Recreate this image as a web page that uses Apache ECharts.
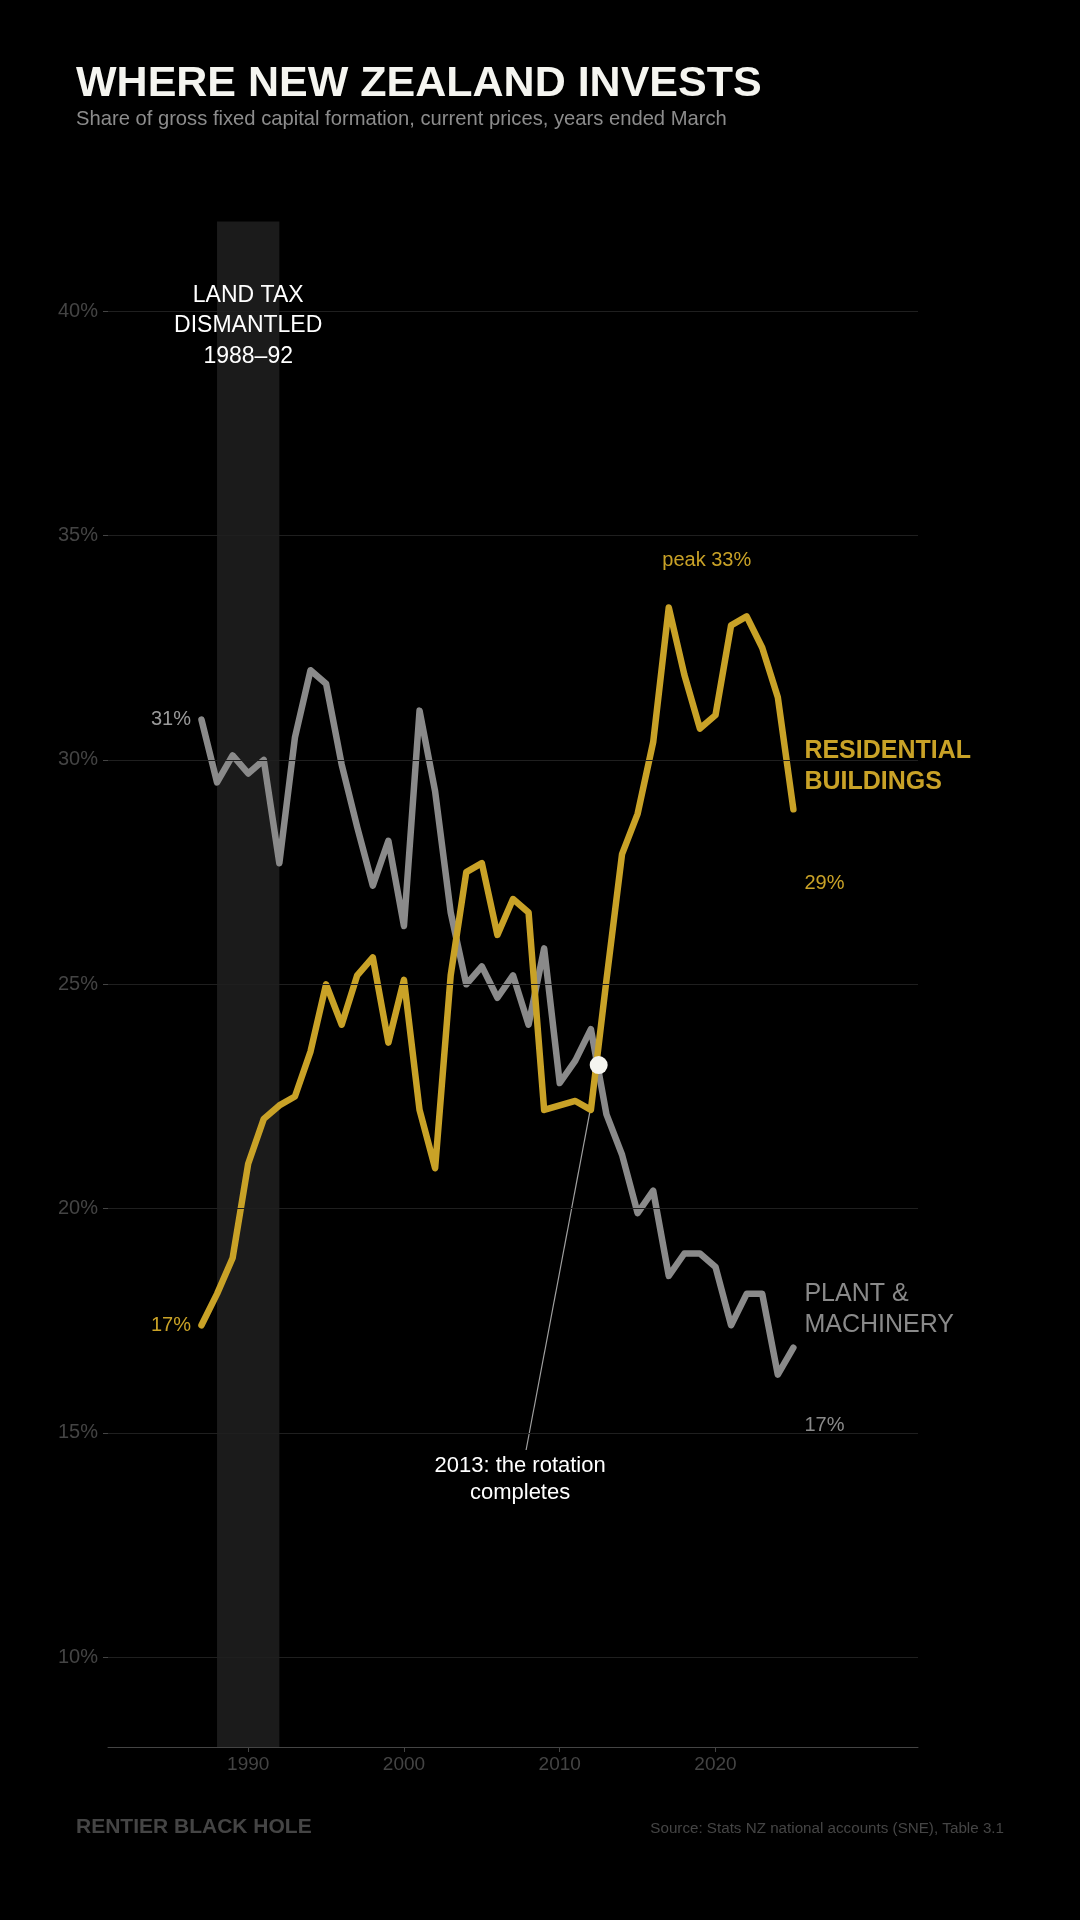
<!DOCTYPE html>
<html>
<head>
<meta charset="utf-8">
<title>Where New Zealand invests</title>
<script src="https://cdn.jsdelivr.net/npm/echarts@6/dist/echarts.min.js"></script>
<style>
  html, body { margin: 0; padding: 0; background: #000; }
  #chart { width: 1080px; height: 1920px; }
</style>
</head>
<body>
<div id="chart"></div>
<script>
const years = [1987, 1988, 1989, 1990, 1991, 1992, 1993, 1994, 1995, 1996,
  1997, 1998, 1999, 2000, 2001, 2002, 2003, 2004, 2005, 2006,
  2007, 2008, 2009, 2010, 2011, 2012, 2013, 2014, 2015, 2016,
  2017, 2018, 2019, 2020, 2021, 2022, 2023, 2024, 2025];

// residential buildings, % of GFCF
const residential = [17.4, 18.1, 18.9, 21.0, 22.0, 22.3, 22.5, 23.5, 25.0, 24.1,
  25.2, 25.6, 23.7, 25.1, 22.2, 20.9, 25.2, 27.5, 27.7, 26.1,
  26.9, 26.6, 22.2, 22.3, 22.4, 22.2, 25.1, 27.9, 28.8, 30.4,
  33.4, 31.9, 30.7, 31.0, 33.0, 33.2, 32.5, 31.4, 28.9];

// plant, machinery & equipment, % of GFCF
const plant = [30.9, 29.5, 30.1, 29.7, 30.0, 27.7, 30.5, 32.0, 31.7, 29.9,
  28.5, 27.2, 28.2, 26.3, 31.1, 29.3, 26.6, 25.0, 25.4, 24.7,
  25.2, 24.1, 25.8, 22.8, 23.3, 24.0, 22.1, 21.2, 19.9, 20.4,
  18.5, 19.0, 19.0, 18.7, 17.4, 18.1, 18.1, 16.3, 16.9];

const gridValues = [10, 15, 20, 25, 30, 35, 40];
const yearTicks = [1990, 2000, 2010, 2020];
const landTaxYears = [1988, 1992];
const crossPoint = [2012.5, 23.2];
const leaderEnd = [2007.84, 14.62];
const peakPoint = [2017, 33.4];

const GOLD = '#c9a227';
const GREY = '#8a8a8a';
const FONT = "'Liberation Sans', Arial, sans-serif";

const chart = echarts.init(document.getElementById('chart'));

function pairs(vals) {
  return vals.map((v, i) => [years[i], v]);
}

function pct(v) {
  return Math.round(v) + '%';
}

/** label next to the first point of a line */
function startLabel(vals, color) {
  return {
    coord: [years[0], vals[0]],
    symbol: 'circle',
    symbolSize: 1,
    itemStyle: { color: 'transparent' },
    label: {
      show: true,
      position: 'left',
      distance: 10,
      formatter: pct(vals[0]),
      color: color,
      fontSize: 20,
      fontFamily: FONT
    }
  };
}

/** name + last value at the end of a line */
function endLabel(name, color, bold, dy) {
  return {
    show: true,
    distance: 11,
    offset: [0, dy],
    formatter: (p) => name.map(n => '{n|' + n + '}').join('\n') + '\n{g| }\n{v|' + pct(p.value[1]) + '}',
    rich: {
      n: { fontSize: 25, lineHeight: 31, fontWeight: bold ? 'bold' : 'normal', color: color, fontFamily: FONT },
      g: { fontSize: 10, lineHeight: 70 },
      v: { fontSize: 20, lineHeight: 31, color: color, fontFamily: FONT }
    }
  };
}

const option = {
  backgroundColor: '#000',
  animation: false,
  textStyle: { fontFamily: FONT },
  title: [
    {
      text: 'WHERE NEW ZEALAND INVESTS',
      subtext: 'Share of gross fixed capital formation, current prices, years ended March',
      left: 76,
      top: 63,
      itemGap: 3,
      padding: 0,
      textStyle: { color: '#f5f5f0', fontSize: 43, fontWeight: 'bold', lineHeight: 43, fontFamily: FONT },
      subtextStyle: { color: '#8c8c8c', fontSize: 20.2, lineHeight: 20, fontFamily: FONT }
    },
    {
      text: 'RENTIER BLACK HOLE',
      left: 76,
      top: 1817,
      padding: 0,
      textStyle: { color: '#454545', fontSize: 21, fontWeight: 'bold', lineHeight: 21, fontFamily: FONT }
    },
    {
      text: 'Source: Stats NZ national accounts (SNE), Table 3.1',
      right: 76,
      top: 1821,
      padding: 0,
      textStyle: { color: '#454545', fontSize: 15.2, fontWeight: 'normal', lineHeight: 15, fontFamily: FONT }
    }
  ],
  grid: { left: 108, right: 162, top: 221.6, bottom: 173 },
  xAxis: {
    type: 'value',
    min: 1981,
    max: 2033,
    axisLine: { show: true, lineStyle: { color: '#444', width: 1 } },
    axisTick: { show: true, length: 5, customValues: yearTicks, lineStyle: { color: '#444' } },
    axisLabel: {
      customValues: yearTicks,
      formatter: (v) => String(v),
      color: '#444',
      fontSize: 19,
      margin: 8,
      fontFamily: FONT
    },
    splitLine: { show: false }
  },
  yAxis: {
    type: 'value',
    min: 8,
    max: 42,
    axisLine: { show: false },
    axisTick: { show: true, length: 5, customValues: gridValues, lineStyle: { color: '#444' } },
    axisLabel: { customValues: gridValues, color: '#444', fontSize: 20, margin: 10, formatter: '{value}%', fontFamily: FONT },
    splitLine: { show: false }
  },
  series: [
    {
      // background: land tax band and gridlines
      type: 'line',
      data: [],
      z: 1,
      silent: true,
      markArea: {
        silent: true,
        itemStyle: { color: '#1b1b1b' },
        label: {
          show: true,
          position: 'insideTop',
          distance: 58.5,
          color: '#fff',
          fontSize: 23,
          lineHeight: 30.5,
          align: 'center',
          fontFamily: FONT
        },
        data: [[
          { name: 'LAND TAX\nDISMANTLED\n' + landTaxYears[0] + '–' + String(landTaxYears[1]).slice(2), xAxis: landTaxYears[0] },
          { xAxis: landTaxYears[1] }
        ]]
      },
      markLine: {
        silent: true,
        symbol: 'none',
        label: { show: false },
        lineStyle: { color: '#1f1f1f', width: 1, type: 'solid' },
        data: gridValues.map(v => ({ yAxis: v }))
      }
    },
    {
      // leader for the 2013 annotation
      type: 'line',
      data: [crossPoint, leaderEnd],
      z: 2,
      silent: true,
      symbol: 'none',
      lineStyle: { color: '#a0a0a0', width: 1.2 },
      markPoint: {
        silent: true,
        data: [{
          coord: leaderEnd,
          symbol: 'circle',
          symbolSize: 1,
          itemStyle: { color: 'transparent' },
          label: {
            show: true,
            position: 'bottom',
            distance: 2,
            offset: [-6, 0],
            formatter: '2013: the rotation\ncompletes',
            color: '#fff',
            fontSize: 22,
            lineHeight: 27,
            align: 'center',
            fontFamily: FONT
          }
        }]
      }
    },
    {
      name: 'Plant & machinery',
      type: 'line',
      data: pairs(plant),
      z: 3,
      showSymbol: false,
      lineStyle: { color: GREY, width: 6.5, join: 'round', cap: 'round' },
      itemStyle: { color: GREY },
      endLabel: endLabel(['PLANT &', 'MACHINERY'], GREY, false, 12),
      markPoint: { silent: true, data: [startLabel(plant, '#9a9a9a')] }
    },
    {
      name: 'Residential buildings',
      type: 'line',
      data: pairs(residential),
      z: 4,
      showSymbol: false,
      lineStyle: { color: GOLD, width: 6.5, join: 'round', cap: 'round' },
      itemStyle: { color: GOLD },
      endLabel: endLabel(['RESIDENTIAL', 'BUILDINGS'], GOLD, true, 8),
      markPoint: {
        silent: true,
        data: [
          startLabel(residential, GOLD),
          {
            coord: peakPoint,
            symbol: 'circle',
            symbolSize: 1,
            itemStyle: { color: 'transparent' },
            label: {
              show: true,
              position: 'inside',
              offset: [38, -47],
              formatter: 'peak 33%',
              color: GOLD,
              fontSize: 20,
              fontFamily: FONT
            }
          }
        ]
      }
    },
    {
      type: 'scatter',
      data: [crossPoint],
      z: 10,
      silent: true,
      symbolSize: 18,
      itemStyle: { color: '#f5f5f0', opacity: 1 }
    }
  ]
};

option && chart.setOption(option);
</script>
</body>
</html>
